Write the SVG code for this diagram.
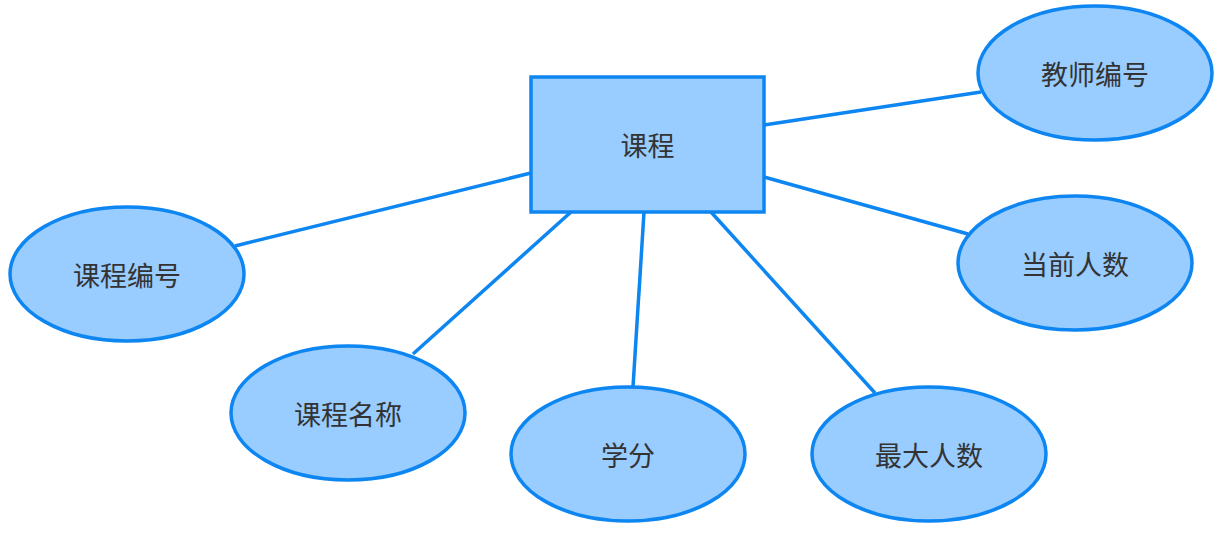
<svg xmlns="http://www.w3.org/2000/svg" width="1226" height="544" viewBox="0 0 1226 544">
<style>
.n{fill:#99ccff;stroke:#0d86f2;stroke-width:3.5}
.c line{stroke:#0d86f2;stroke-width:3.5}
text{font-family:"Noto Sans CJK SC","Noto Sans",sans-serif;font-size:27px;fill:#333333;text-anchor:middle;dominant-baseline:central}
</style>
<rect width="1226" height="544" fill="#ffffff"/>
<g class="c" id="connectors">
<line x1="764" y1="125" x2="981" y2="92"/>
<line x1="764" y1="177" x2="968" y2="234"/>
<line x1="531" y1="173" x2="235" y2="246"/>
<line x1="571" y1="212" x2="413" y2="354"/>
<line x1="644" y1="212" x2="633" y2="387"/>
<line x1="711" y1="212" x2="875" y2="393"/>
</g>
<g id="course"><rect class="n" x="531" y="77" width="233" height="135"/><text x="647.5" y="144">课程</text></g>
<g id="teacher-id"><ellipse class="n" cx="1095" cy="73" rx="117" ry="67"/><text x="1095" y="73">教师编号</text></g>
<g id="current-count"><ellipse class="n" cx="1075" cy="263" rx="117" ry="67"/><text x="1075" y="263">当前人数</text></g>
<g id="course-id"><ellipse class="n" cx="127" cy="274" rx="117" ry="67"/><text x="127" y="274">课程编号</text></g>
<g id="course-name"><ellipse class="n" cx="348" cy="413" rx="117" ry="67"/><text x="348" y="413">课程名称</text></g>
<g id="credit"><ellipse class="n" cx="628" cy="454" rx="117" ry="67"/><text x="628" y="454">学分</text></g>
<g id="max-count"><ellipse class="n" cx="929" cy="454" rx="117" ry="67"/><text x="929" y="454">最大人数</text></g>
</svg>
